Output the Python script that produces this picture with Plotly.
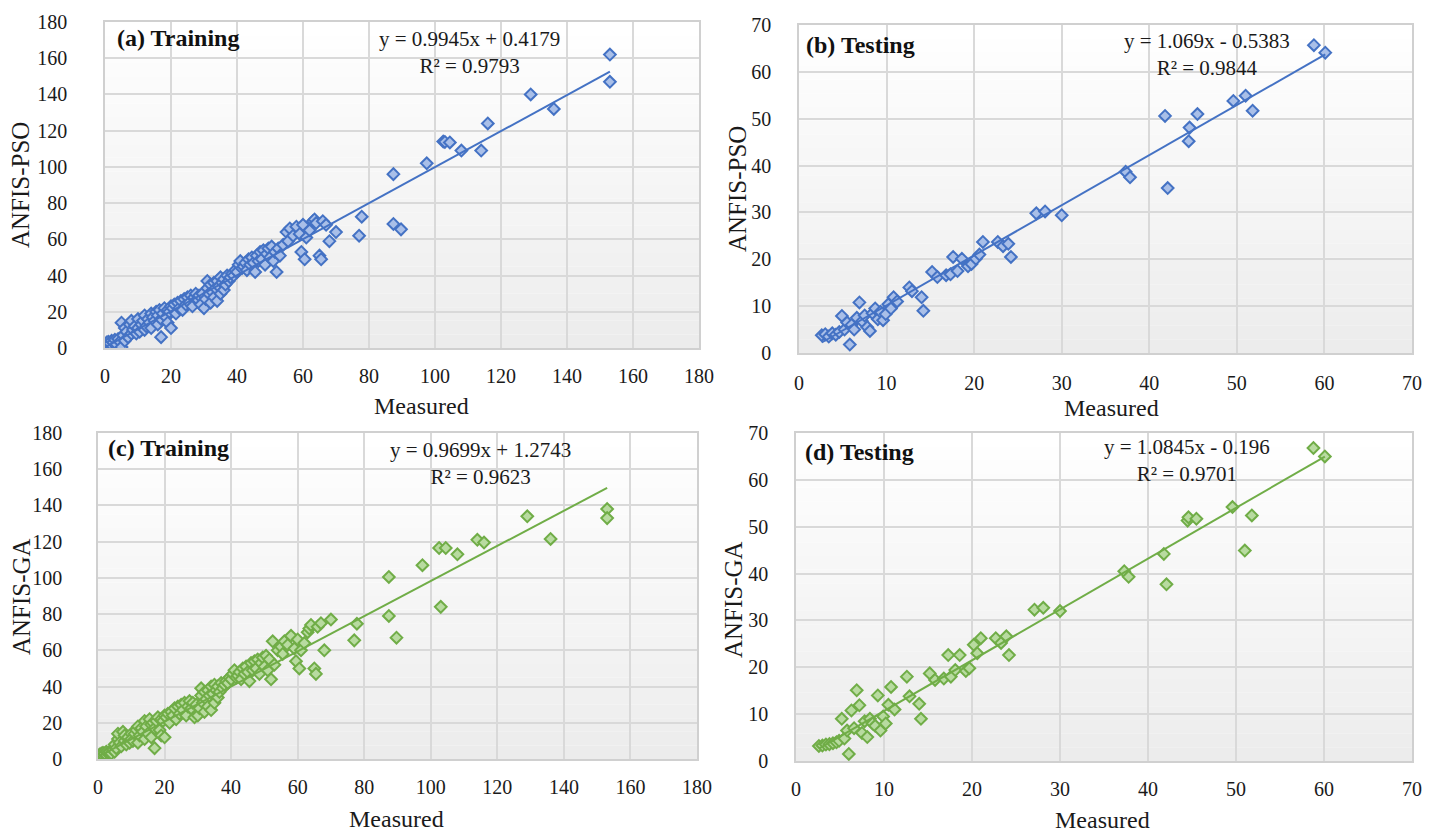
import numpy as np
import plotly.graph_objects as go

# ---------------- DATA ----------------
# Training: measured values (shared by ANFIS-PSO and ANFIS-GA)
train_measured = [
    0.5, 1, 1.5, 2, 2.5, 3, 3.5, 4, 4.5, 5, 5, 5.5, 6, 6, 6.5, 7, 7.5, 8, 8, 8.5, 9, 9.5, 10, 10,
    10.5, 11, 11.5, 12, 12, 12.5, 13, 13.5, 14, 14, 14.5, 15, 15.5, 16, 16, 16.5, 17, 17, 17.5, 18,
    18.5, 19, 19, 19.5, 20, 20,
    20.5, 21, 21.5, 22, 22.5, 23, 23.5, 24, 24.5, 25, 25.5, 26, 26.5, 27, 27.5, 28, 28.5, 29, 29.5, 30,
    30.5, 31, 31, 31.5, 32, 32, 32.5, 33, 33, 33.5, 34, 34, 34.5, 35, 35, 35.5, 36, 36, 36.5, 37,
    37.5, 38, 38.5, 39, 39.5, 40,
    40.5, 41, 41.5, 42, 42.5, 43, 43.5, 44, 44.5, 45, 45.5, 46, 46.5, 47, 47.5, 48, 48.5, 49, 49.5,
    50, 50.5, 51, 51.5, 52, 52.5, 53, 54,
    55, 55.5, 56, 57, 58, 59, 59.5, 60, 60.5, 61, 62, 63, 63.5, 64, 65, 65.5, 66, 67, 68, 70,
    77, 77.8, 87.4, 87.4, 89.7, 97.5, 102.5, 103, 104.5, 108, 114, 116, 129, 136, 153, 153,
]
train_pso = [
    3, 3.5, 2.5, 4, 3, 4.5, 2, 5, 3.5, 0.5, 14, 7, 4, 11, 9, 6, 13, 8, 15, 10, 12, 8, 16, 11,
    9, 13, 15, 10, 18, 12, 16, 14, 19, 11, 17, 15, 20, 13, 18, 21, 6, 16, 19, 22,
    17, 21, 14, 20, 23, 11,
    22, 24, 19, 25, 22, 26, 21, 27, 24, 28, 25, 29, 23, 28, 30, 27, 29, 24, 30, 22,
    27, 33, 37, 30, 35, 25, 31, 36, 28, 33, 37, 26, 34, 39, 30, 36, 32, 38, 35, 40,
    37, 39, 41, 40, 43, 42,
    46, 48, 44, 45, 47, 43, 49, 46, 50, 47, 42, 51, 48, 53, 49, 54, 46, 52, 55,
    50, 56, 48, 53, 42, 55, 51, 57,
    64, 59, 66, 62, 67, 63, 53, 68, 49, 61, 65, 70, 71, 69, 51, 49, 70, 68, 59, 64,
    62, 72.5, 96, 68.5, 65.5, 102, 114, 113.8, 113.5, 109, 109, 124, 140, 132, 162, 147,
]
train_ga = [
    2.5, 3, 3.5, 3, 4, 3.5, 4, 3, 5, 4, 8, 6, 11, 14, 9, 7, 15, 10, 13, 8, 12, 9, 14, 11,
    10, 14, 16, 9, 18, 13, 17, 15, 21, 11, 18, 14, 22, 12, 19, 20, 6, 17, 21, 23,
    16, 22, 13, 21, 24, 12,
    23, 25, 20, 26, 24, 28, 22, 29, 25, 30, 27, 31, 24, 29, 32, 28, 31, 23, 30, 24,
    28, 35, 39, 31, 37, 26, 33, 38, 29, 35, 40, 27, 36, 41, 31, 38, 34, 40, 37, 42,
    39, 41, 43, 42, 45, 44,
    47, 49, 45, 46, 48, 44, 50, 47, 51, 48, 43, 53, 49, 54, 50, 55, 47, 53, 56,
    51, 57, 49, 55, 44, 65, 52, 60,
    62, 58, 65, 63, 68, 61, 54, 66, 50, 60, 64, 70, 72, 74, 50, 47, 73, 75, 60, 77,
    65.5, 74.7, 100.5, 79, 67, 107, 116.5, 84, 116.5, 113, 121, 119.5, 134, 121.5, 138, 133,
]

# Testing: measured values (shared)
test_measured = [
    2.6, 3.0, 3.4, 3.8, 4.2, 4.6, 4.9, 5.2, 5.5, 5.8, 6.0, 6.3, 6.6, 6.9, 7.2, 7.5, 7.8, 8.1, 8.4,
    8.7, 9.0, 9.3, 9.6, 9.9, 10.2, 10.5, 10.8, 11.2, 12.6, 12.9, 14.0, 14.2, 15.2, 15.8, 16.8, 17.3,
    17.6, 18.1, 18.6, 19.3, 19.7, 20.2, 20.6, 21.0, 22.7, 23.3, 23.9, 24.2, 27.1, 28.1, 30.0, 37.3,
    37.8, 41.8, 42.1, 44.5, 44.6, 45.5, 49.6, 51.0, 51.8, 58.8, 60.1,
]
test_pso = [
    3.8, 4.0, 3.5, 4.2, 3.9, 4.5, 7.9, 5.0, 6.5, 1.8, 6.0, 5.0, 7.5, 10.8, 6.8, 8.0, 5.5, 4.7, 8.5,
    9.5, 7.2, 8.8, 7.0, 8.3, 10.4, 9.5, 11.9, 11.0, 14.0, 13.2, 11.9, 9.0, 17.3, 16.2, 16.6, 16.8,
    20.5, 17.5, 20.1, 18.5, 19.0, 20.1, 21.0, 23.7, 23.7, 22.8, 23.3, 20.5, 29.8, 30.2, 29.4, 38.7,
    37.5, 50.6, 35.2, 45.2, 48.1, 51.0, 53.8, 54.9, 51.7, 65.7, 64.1,
]
test_ga = [
    3.2, 3.3, 3.5, 3.6, 3.8, 4.0, 4.3, 9.0, 4.8, 6.5, 1.5, 10.8, 7.0, 15.1, 11.9, 6.0, 8.5, 5.1, 9.0,
    8.0, 7.5, 14.0, 6.5, 9.5, 8.0, 12.0, 15.8, 11.0, 18.0, 13.8, 12.2, 9.0, 18.7, 17.3, 17.6, 22.6,
    18.0, 19.4, 22.6, 19.2, 19.8, 24.8, 23.0, 26.2, 26.2, 25.2, 26.6, 22.6, 32.3, 32.7, 32.0, 40.5,
    39.3, 44.2, 37.7, 51.3, 52.0, 51.7, 54.2, 44.9, 52.4, 66.8, 65.0,
]

# Trend line coefficients (as printed on the chart)
fit_slope = [0.9945, 1.069, 0.9699, 1.0845]
fit_intercept = [0.4179, -0.5383, 1.2743, -0.196]
fit_labels = [
    "y = 0.9945x + 0.4179<br>R² = 0.9793",
    "y = 1.069x - 0.5383<br>R² = 0.9844",
    "y = 0.9699x + 1.2743<br>R² = 0.9623",
    "y = 1.0845x - 0.196<br>R² = 0.9701",
]
panel_labels = ["(a) Training", "(b) Testing", "(c) Training", "(d) Testing"]
y_titles = ["ANFIS-PSO", "ANFIS-PSO", "ANFIS-GA", "ANFIS-GA"]
x_title = "Measured"
axis_max = [180, 70, 180, 70]
axis_dtick = [20, 10, 20, 10]

# ---------------- STYLE ----------------
FONT = "Liberation Serif"
BLUE, BLUE_FILL = "#4472C4", "#a9bfe8"
GREEN, GREEN_FILL = "#70AD47", "#b8dba0"

panels = [
    dict(x=train_measured, y=train_pso, c=BLUE, f=BLUE_FILL,
         xd=[105/1440, 699/1440], yd=[1-348/836, 1-22/836], ystand=32, xstand=9,
         eq=(0.614, 0.905), lab=(0.017, 0.95), yt=(21/1440, 1-185/836), xt=(421/1440, 1-406/836)),
    dict(x=test_measured, y=test_pso, c=BLUE, f=BLUE_FILL,
         xd=[799/1440, 1412/1440], yd=[1-353/836, 1-25/836], ystand=22, xstand=11,
         eq=(0.666, 0.91), lab=(0.008, 0.94), yt=(737/1440, 1-189/836), xt=(1111/1440, 1-408/836)),
    dict(x=train_measured, y=train_ga, c=GREEN, f=GREEN_FILL,
         xd=[98/1440, 697/1440], yd=[1-759/836, 1-433/836], ystand=30, xstand=9,
         eq=(0.638, 0.905), lab=(0.013, 0.954), yt=(21/1440, 1-597/836), xt=(396/1440, 1-819/836)),
    dict(x=test_measured, y=test_ga, c=GREEN, f=GREEN_FILL,
         xd=[796/1440, 1412/1440], yd=[1-761/836, 1-433/836], ystand=22, xstand=9,
         eq=(0.635, 0.917), lab=(0.011, 0.943), yt=(733/1440, 1-600/836), xt=(1102/1440, 1-820/836)),
]

fig = go.Figure()
shapes = []
annotations = []
N_STRIPS = 24

for i, p in enumerate(panels):
    k = "" if i == 0 else str(i + 1)
    xa, ya = "x" + k, "y" + k
    fig.add_trace(go.Scatter(
        x=p["x"], y=p["y"], mode="markers", xaxis=xa, yaxis=ya, showlegend=False,
        marker=dict(symbol="diamond", size=9, color=p["f"],
                    line=dict(color=p["c"], width=2)),
    ))
    xs = np.array([min(p["x"]), max(p["x"])])
    fig.add_trace(go.Scatter(
        x=xs, y=fit_slope[i] * xs + fit_intercept[i], mode="lines",
        xaxis=xa, yaxis=ya, showlegend=False, line=dict(color=p["c"], width=2),
    ))
    ax = dict(range=[0, axis_max[i]], dtick=axis_dtick[i], showgrid=True,
              gridcolor="#d9d9d9", gridwidth=1.5, showline=True, mirror=True,
              linecolor="#d0d0d0", linewidth=1.5, zeroline=False, ticks="",
              automargin=False,
              tickfont=dict(family=FONT, size=20, color="#1a1a1a"), fixedrange=True)
    fig.update_layout(**{
        ("xaxis" + k): dict(ax, domain=p["xd"], anchor=ya, ticklabelstandoff=p["xstand"]),
        ("yaxis" + k): dict(ax, domain=p["yd"], anchor=xa, ticklabelstandoff=p["ystand"]),
    })
    # background gradient (white at top -> light grey at bottom)
    for s in range(N_STRIPS):
        t = s / N_STRIPS
        g = int(round(236 + (255 - 236) * (t + 0.5 / N_STRIPS)))
        shapes.append(dict(type="rect", xref=xa + " domain", yref=ya + " domain",
                           x0=0, x1=1, y0=t, y1=t + 1 / N_STRIPS, layer="below",
                           line=dict(width=0), fillcolor=f"rgb({g},{g},{g})"))
    annotations.append(dict(xref=xa + " domain", yref=ya + " domain", x=p["eq"][0], y=p["eq"][1],
                            xanchor="center", yanchor="middle",
                            text=fit_labels[i], showarrow=False, align="center",
                            font=dict(family=FONT, size=21, color="#1a1a1a")))
    annotations.append(dict(xref=xa + " domain", yref=ya + " domain", x=p["lab"][0], y=p["lab"][1],
                            xanchor="left", yanchor="middle",
                            text="<b>" + panel_labels[i] + "</b>", showarrow=False,
                            font=dict(family=FONT, size=24, color="#111")))
    annotations.append(dict(xref="paper", yref="paper", x=p["yt"][0], y=p["yt"][1],
                            xanchor="center", yanchor="middle",
                            text=y_titles[i], textangle=-90, showarrow=False,
                            font=dict(family=FONT, size=25, color="#1a1a1a")))
    annotations.append(dict(xref="paper", yref="paper", x=p["xt"][0], y=p["xt"][1],
                            xanchor="center", yanchor="middle",
                            text=x_title, showarrow=False,
                            font=dict(family=FONT, size=24, color="#1a1a1a")))

fig.update_layout(
    width=1440, height=836, margin=dict(l=0, r=0, t=0, b=0),
    paper_bgcolor="white", plot_bgcolor="white",
    shapes=shapes, annotations=annotations, showlegend=False,
)
fig.write_html("out.html", config={"displayModeBar": False})
